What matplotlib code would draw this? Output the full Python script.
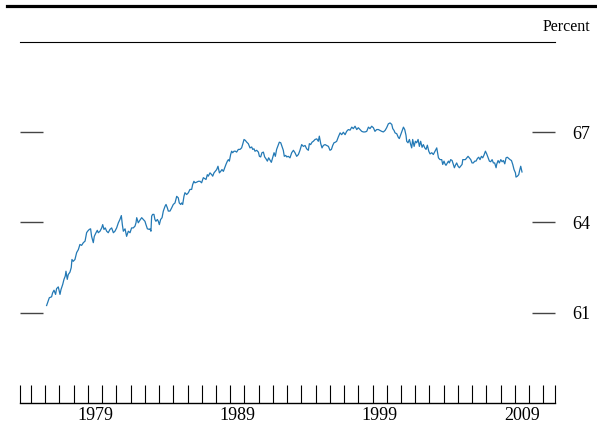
import matplotlib
matplotlib.use("Agg")
import matplotlib.pyplot as plt
from matplotlib.lines import Line2D

plt.rcParams['font.family'] = ['Liberation Serif', 'DejaVu Serif']

# Decimal-year dates and participation rate (percent)
dates = [
    1976.10, 1976.29, 1976.45, 1976.52, 1976.62, 1976.73, 1976.80, 1976.92, 1977.04, 1977.11,
    1977.23, 1977.32, 1977.41, 1977.46, 1977.55, 1977.62, 1977.74, 1977.83, 1977.88, 1977.97,
    1978.09, 1978.21, 1978.33, 1978.44, 1978.56, 1978.68, 1978.80, 1978.91, 1978.98, 1979.10,
    1979.19, 1979.26, 1979.38, 1979.45, 1979.57, 1979.66, 1979.73, 1979.85, 1979.97, 1980.04,
    1980.13, 1980.22, 1980.32, 1980.43, 1980.55, 1980.67, 1980.79, 1980.90, 1981.02, 1981.14,
    1981.25, 1981.35, 1981.42, 1981.49, 1981.61, 1981.72, 1981.84, 1981.96, 1982.07, 1982.19,
    1982.31, 1982.38, 1982.43, 1982.54, 1982.66, 1982.78, 1982.89, 1983.01, 1983.08, 1983.18,
    1983.32, 1983.36, 1983.43, 1983.48, 1983.55, 1983.64, 1983.71, 1983.78, 1983.88, 1983.95,
    1984.02, 1984.11, 1984.21, 1984.30, 1984.42, 1984.49, 1984.58, 1984.65, 1984.77, 1984.89,
    1985.00, 1985.12, 1985.24, 1985.35, 1985.42, 1985.52, 1985.59, 1985.66, 1985.75, 1985.82,
    1985.94, 1986.06, 1986.17, 1986.29, 1986.36, 1986.45, 1986.52, 1986.64, 1986.76, 1986.88,
    1986.99, 1987.11, 1987.23, 1987.30, 1987.39, 1987.46, 1987.58, 1987.70, 1987.77, 1987.86,
    1987.95, 1988.05, 1988.14, 1988.24, 1988.33, 1988.42, 1988.52, 1988.61, 1988.70, 1988.80,
    1988.87, 1988.94, 1989.03, 1989.10, 1989.17, 1989.27, 1989.36, 1989.45, 1989.57, 1989.69,
    1989.80, 1989.87, 1989.97, 1990.06, 1990.16, 1990.27, 1990.39, 1990.51, 1990.58, 1990.67,
    1990.74, 1990.86, 1990.98, 1991.05, 1991.14, 1991.23, 1991.33, 1991.42, 1991.51, 1991.61,
    1991.70, 1991.80, 1991.89, 1991.98, 1992.08, 1992.17, 1992.26, 1992.36, 1992.45, 1992.55,
    1992.64, 1992.73, 1992.80, 1992.90, 1992.97, 1993.08, 1993.20, 1993.32, 1993.44, 1993.55,
    1993.67, 1993.79, 1993.90, 1994.02, 1994.14, 1994.26, 1994.37, 1994.49, 1994.56, 1994.65,
    1994.75, 1994.84, 1994.96, 1995.08, 1995.19, 1995.26, 1995.36, 1995.45, 1995.54, 1995.66,
    1995.78, 1995.90, 1996.01, 1996.11, 1996.20, 1996.29, 1996.39, 1996.48, 1996.60, 1996.72,
    1996.83, 1996.95, 1997.07, 1997.18, 1997.30, 1997.42, 1997.54, 1997.65, 1997.77, 1997.89,
    1998.00, 1998.12, 1998.24, 1998.35, 1998.47, 1998.59, 1998.71, 1998.82, 1998.94, 1999.06,
    1999.17, 1999.29, 1999.41, 1999.53, 1999.64, 1999.76, 1999.88, 1999.99, 2000.11, 2000.23,
    2000.35, 2000.42, 2000.51, 2000.58, 2000.70, 2000.81, 2000.88, 2000.98, 2001.07, 2001.17,
    2001.26, 2001.35, 2001.40, 2001.49, 2001.59, 2001.68, 2001.75, 2001.82, 2001.92, 2002.01,
    2002.10, 2002.20, 2002.29, 2002.38, 2002.48, 2002.57, 2002.67, 2002.76, 2002.85, 2002.95,
    2003.04, 2003.16, 2003.27, 2003.39, 2003.51, 2003.63, 2003.74, 2003.86, 2003.93, 2004.02,
    2004.09, 2004.16, 2004.26, 2004.33, 2004.40, 2004.49, 2004.59, 2004.68, 2004.75, 2004.82,
    2004.91, 2005.01, 2005.10, 2005.19, 2005.29, 2005.34, 2005.43, 2005.52, 2005.62, 2005.71,
    2005.80, 2005.90, 2005.99, 2006.08, 2006.18, 2006.27, 2006.37, 2006.46, 2006.55, 2006.65,
    2006.74, 2006.83, 2006.93, 2007.02, 2007.12, 2007.21, 2007.30, 2007.40, 2007.49, 2007.58,
    2007.68, 2007.72, 2007.82, 2007.91, 2008.01, 2008.10, 2008.19, 2008.29, 2008.38, 2008.47,
    2008.57, 2008.66, 2008.76, 2008.85, 2008.94, 2009.04, 2009.08, 2009.18, 2009.27, 2009.32,
    2009.41, 2009.50,
]
rate = [
    61.24, 61.50, 61.53, 61.66, 61.75, 61.61, 61.80, 61.86, 61.61, 61.77,
    61.94, 62.11, 62.22, 62.38, 62.11, 62.27, 62.35, 62.50, 62.77, 62.71,
    62.77, 63.00, 63.10, 63.27, 63.24, 63.33, 63.38, 63.66, 63.71, 63.77,
    63.79, 63.54, 63.33, 63.54, 63.66, 63.74, 63.66, 63.71, 63.82, 63.93,
    63.77, 63.82, 63.71, 63.66, 63.77, 63.82, 63.66, 63.71, 63.82, 63.99,
    64.10, 64.23, 63.93, 63.71, 63.79, 63.54, 63.71, 63.66, 63.82, 63.82,
    63.88, 63.99, 64.16, 63.99, 64.08, 64.16, 64.10, 64.04, 63.93, 63.79,
    63.77, 63.79, 63.71, 64.21, 64.27, 64.27, 64.10, 64.04, 64.10, 64.04,
    63.93, 64.10, 64.16, 64.38, 64.54, 64.60, 64.49, 64.38, 64.38, 64.49,
    64.60, 64.65, 64.87, 64.82, 64.65, 64.60, 64.65, 64.60, 64.87, 64.99,
    64.93, 64.99, 65.10, 65.10, 65.26, 65.37, 65.32, 65.34, 65.37, 65.37,
    65.32, 65.49, 65.45, 65.43, 65.59, 65.54, 65.65, 65.59, 65.54, 65.65,
    65.70, 65.76, 65.87, 65.65, 65.70, 65.76, 65.70, 65.82, 65.93, 66.04,
    66.09, 66.04, 66.26, 66.37, 66.32, 66.37, 66.37, 66.34, 66.43, 66.43,
    66.48, 66.59, 66.76, 66.73, 66.67, 66.62, 66.48, 66.51, 66.43, 66.45,
    66.37, 66.40, 66.34, 66.20, 66.18, 66.32, 66.34, 66.18, 66.12, 66.04,
    66.15, 66.07, 66.00, 66.15, 66.32, 66.20, 66.43, 66.56, 66.67, 66.65,
    66.53, 66.40, 66.20, 66.23, 66.18, 66.20, 66.15, 66.32, 66.40, 66.32,
    66.20, 66.26, 66.40, 66.59, 66.53, 66.56, 66.45, 66.40, 66.62, 66.59,
    66.67, 66.70, 66.76, 66.78, 66.70, 66.87, 66.62, 66.48, 66.56, 66.59,
    66.56, 66.53, 66.40, 66.43, 66.56, 66.65, 66.67, 66.70, 66.85, 66.98,
    66.92, 67.00, 66.92, 67.03, 67.09, 67.07, 67.17, 67.12, 67.20, 67.09,
    67.15, 67.09, 67.03, 67.01, 67.01, 67.03, 67.17, 67.12, 67.20, 67.15,
    67.03, 67.09, 67.09, 67.06, 67.03, 67.01, 67.06, 67.15, 67.28, 67.31,
    67.26, 67.12, 67.06, 66.98, 66.95, 66.83, 66.79, 66.92, 67.03, 67.17,
    67.09, 66.90, 66.70, 66.65, 66.76, 66.59, 66.48, 66.76, 66.53, 66.70,
    66.65, 66.76, 66.53, 66.70, 66.50, 66.59, 66.48, 66.43, 66.57, 66.37,
    66.28, 66.32, 66.26, 66.37, 66.48, 66.15, 66.09, 66.09, 65.93, 66.04,
    65.95, 65.90, 65.98, 66.04, 65.98, 66.09, 66.06, 65.93, 65.82, 65.90,
    65.98, 65.87, 65.82, 65.87, 65.93, 66.09, 66.09, 66.09, 66.15, 66.20,
    66.15, 66.09, 65.98, 65.98, 66.04, 66.04, 66.13, 66.17, 66.09, 66.20,
    66.15, 66.24, 66.37, 66.28, 66.15, 66.04, 66.02, 66.09, 65.98, 65.98,
    65.82, 65.93, 66.06, 65.98, 66.09, 66.02, 66.06, 65.95, 66.15, 66.17,
    66.13, 66.09, 66.06, 65.93, 65.76, 65.65, 65.51, 65.54, 65.59, 65.70,
    65.87, 65.68,
]

y_ticks = [61, 64, 67]
year_ticks = list(range(1975, 2012))
label_years = [1979, 1989, 1999, 2009]
x_limits = (1974.23, 2011.84)
y_limits = (58, 70)

W, H = 597, 433
fig = plt.figure(figsize=(W / 100, H / 100), dpi=100)
ax = fig.add_axes([20 / W, 1 - 403 / H, (555.3 - 20) / W, (403 - 42) / H])

ax.plot(dates, rate, color='#2379b5', lw=0.9, solid_joinstyle='round')
ax.set_xlim(*x_limits)
ax.set_ylim(*y_limits)

for s in ('left', 'right'):
    ax.spines[s].set_visible(False)
ax.spines['top'].set_linewidth(0.8)
ax.spines['bottom'].set_linewidth(1.0)

# y ticks: inward dashes on both sides, labels on right
ax.set_yticks(y_ticks)
ax.set_yticklabels([str(v) for v in y_ticks])
ax.yaxis.set_ticks_position('both')
ax.tick_params(axis='y', which='major', direction='in', length=16.5, width=1.0,
               color='#444444', left=True, right=True, labelleft=False,
               labelright=True, pad=12, labelsize=13)

# x ticks: yearly inward ticks, labels centred mid-year
ax.set_xticks(list(x_limits[:1]) + year_ticks + list(x_limits[1:]))
ax.tick_params(axis='x', which='major', direction='in', length=13, width=0.8,
               color='black', labelbottom=False, top=False)
ax.set_xticks([y + 0.5 for y in label_years], minor=True)
ax.set_xticklabels([str(y) for y in label_years], minor=True)
ax.tick_params(axis='x', which='minor', length=0, pad=3, labelsize=13, top=False)

# top thick rule and unit label
fig.add_artist(Line2D([7 / W, 1.0], [1 - 5.5 / H, 1 - 5.5 / H], color='black', lw=2.3))
fig.text(590 / W, 1 - 27 / H, 'Percent', ha='right', va='center', fontsize=11.5)

fig.savefig('out.png', dpi=100)
